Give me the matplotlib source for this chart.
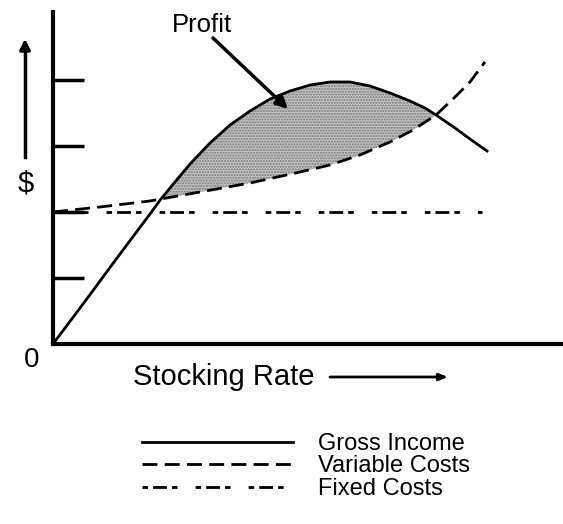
import numpy as np
import matplotlib
matplotlib.use("Agg")
import matplotlib.pyplot as plt

plt.rcParams['font.family'] = ['Liberation Sans', 'DejaVu Sans']
plt.rcParams['hatch.linewidth'] = 1.0

# values (units: one y tick = 1)
gross_x = [0.0, 0.455, 0.970, 1.470, 1.636, 1.773, 2.076, 2.379, 2.682, 2.985,
           3.288, 3.591, 3.894, 4.197, 4.500, 4.803, 5.106, 5.409, 5.636,
           5.803, 6.091, 6.318, 6.576]
gross_y = [0.0, 0.606, 1.303, 1.970, 2.197, 2.364, 2.727, 3.045, 3.318, 3.530,
           3.712, 3.833, 3.924, 3.970, 3.970, 3.909, 3.803, 3.682, 3.576,
           3.470, 3.273, 3.106, 2.924]

var_x = [0.0, 0.712, 1.470, 1.636, 2.227, 2.985, 3.742, 4.197, 4.652, 5.106,
         5.455, 5.803, 6.061, 6.318, 6.545]
var_y = [2.0, 2.076, 2.167, 2.197, 2.303, 2.439, 2.606, 2.712, 2.864, 3.061,
         3.242, 3.470, 3.712, 3.970, 4.273]

fixed_x = [0.0, 6.50]
fixed_y = [2.0, 2.0]

profit_from, profit_to = 1.636, 5.803
y_ticks = [1, 2, 3, 4]
labels = ['Gross Income', 'Variable Costs', 'Fixed Costs']

W, H = 563, 524
fig = plt.figure(figsize=(W / 100, H / 100), dpi=100)


def fx(px):
    return px / W


def fy(py):
    return 1 - py / H


ax = fig.add_axes([fx(53), fy(344), fx(563) - fx(53), fy(12) - fy(344)])
ax.set_xlim(0, 510 / 66)
ax.set_ylim(0, 332 / 66)

# profit area between gross income and variable costs
gx = np.array(gross_x)
gy = np.array(gross_y)
vx = np.array(var_x)
vy = np.array(var_y)
gm = (gx >= profit_from) & (gx <= profit_to)
vm = (vx >= profit_from) & (vx <= profit_to)
poly_x = np.concatenate([gx[gm], vx[vm][::-1]])
poly_y = np.concatenate([gy[gm], vy[vm][::-1]])
ax.fill(poly_x, poly_y, facecolor='#c2c2c2', edgecolor='#787878', hatch='......', lw=0)

l1, = ax.plot(gross_x, gross_y, color='black', lw=2.0, solid_joinstyle='round')
l2, = ax.plot(var_x, var_y, color='black', lw=2.0, dashes=(5.4, 2.6))
l3, = ax.plot(fixed_x, fixed_y, color='black', lw=2.0,
              dashes=(2.0, 1.8, 5.0, 1.8, 2.0, 6.5))

for s in ['top', 'right']:
    ax.spines[s].set_visible(False)
for s in ['left', 'bottom']:
    ax.spines[s].set_linewidth(3)
ax.set_xticks([])
ax.set_yticks(y_ticks)
ax.set_yticklabels([])
ax.tick_params(axis='y', direction='in', length=22, width=2.5)

# annotations
fig.text(fx(32), fy(360), '0', fontsize=20, ha='center', va='center')
fig.text(fx(26), fy(183), '$', fontsize=21, ha='center', va='center')
fig.text(fx(133), fy(385), 'Stocking Rate', fontsize=21, ha='left', va='baseline')
fig.text(fx(202), fy(32), 'Profit', fontsize=18.5, ha='center', va='baseline')

fig.add_artist(plt.Line2D([fx(25), fx(25)], [fy(157), fy(45)], color='black', lw=2.5))
ax.annotate('', xy=(fx(25), fy(36)), xycoords='figure fraction',
            xytext=(fx(25), fy(50)), textcoords='figure fraction',
            arrowprops=dict(arrowstyle='-|>,head_length=0.6,head_width=0.3',
                            color='black', lw=2.5))
ax.annotate('', xy=(fx(448), fy(377)), xycoords='figure fraction',
            xytext=(fx(330), fy(377)), textcoords='figure fraction',
            arrowprops=dict(arrowstyle='-|>,head_length=0.5,head_width=0.2',
                            color='black', lw=2.0, shrinkA=0, shrinkB=0))
ax.annotate('', xy=(fx(288), fy(109)), xycoords='figure fraction',
            xytext=(fx(213), fy(38)), textcoords='figure fraction',
            arrowprops=dict(arrowstyle='-|>,head_length=0.7,head_width=0.35',
                            color='black', lw=2.5, shrinkA=0, shrinkB=0))

fig.legend([l1, l2, l3], labels, loc='upper left',
           bbox_to_anchor=(fx(142), fy(433)), frameon=False, fontsize=17,
           handlelength=6.4, handletextpad=1.05, labelspacing=0.02,
           borderpad=0, borderaxespad=0)

fig.savefig('out.png', dpi=100)
